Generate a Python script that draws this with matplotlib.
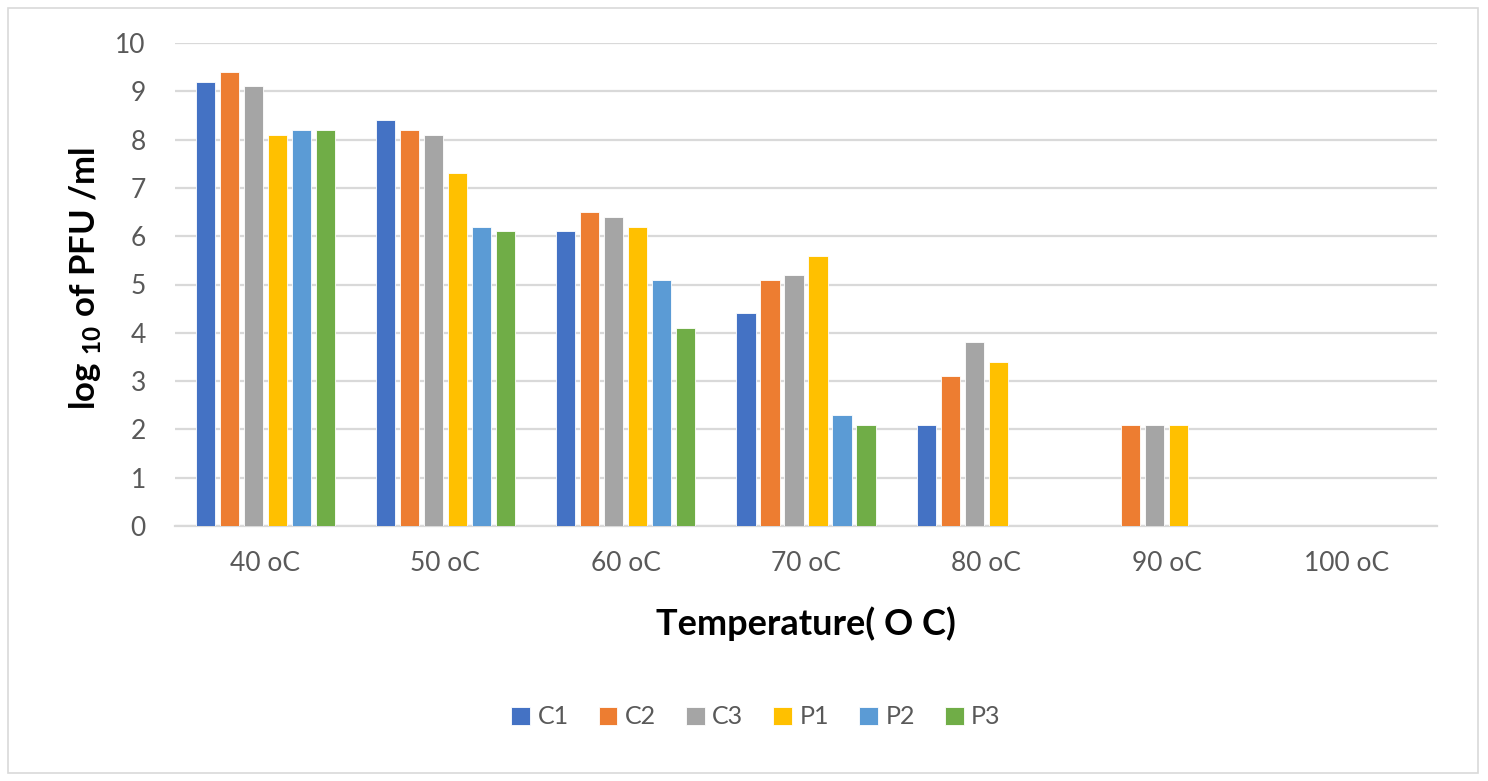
import matplotlib
matplotlib.use("Agg")
import matplotlib.pyplot as plt
import numpy as np
from matplotlib.patches import Rectangle

plt.rcParams['font.family'] = ['Lato', 'DejaVu Sans']
plt.rcParams['mathtext.fontset'] = 'custom'
plt.rcParams['mathtext.rm'] = 'Lato'
plt.rcParams['mathtext.bf'] = 'Lato:bold'

categories = ["40 oC", "50 oC", "60 oC", "70 oC", "80 oC", "90 oC", "100 oC"]
series_names = ["C1", "C2", "C3", "P1", "P2", "P3"]
C1 = [9.2, 8.4, 6.1, 4.4, 2.1, 0, 0]
C2 = [9.4, 8.2, 6.5, 5.1, 3.1, 2.1, 0]
C3 = [9.1, 8.1, 6.4, 5.2, 3.8, 2.1, 0]
P1 = [8.1, 7.3, 6.2, 5.6, 3.4, 2.1, 0]
P2 = [8.2, 6.2, 5.1, 2.3, 0, 0, 0]
P3 = [8.2, 6.1, 4.1, 2.1, 0, 0, 0]
yticks = list(range(0, 11))

series = [C1, C2, C3, P1, P2, P3]
colors = ["#4472C4", "#ED7D31", "#A5A5A5", "#FFC000", "#5B9BD5", "#70AD47"]

W, H = 1488, 781
fig = plt.figure(figsize=(W / 100, H / 100), dpi=100)
ax = fig.add_axes([175 / W, 1 - 526 / H, (1437 - 175) / W, (526 - 43) / H])

x = np.arange(len(categories))
step = 0.133
bw = 0.106
for i, (name, vals, c) in enumerate(zip(series_names, series, colors)):
    off = (i - 2.5) * step
    ax.bar(x + off, vals, width=bw, color=c, label=name, edgecolor='white',
           linewidth=0.6, zorder=3)

ax.set_xlim(-0.5, len(categories) - 0.5)
ax.set_ylim(0, 10)
ax.set_yticks(yticks)
ax.set_xticks(x)
ax.set_xticklabels(categories)
ax.tick_params(axis='both', length=0, labelsize=19, colors='#595959')
ax.tick_params(axis='x', pad=18)
ax.tick_params(axis='y', pad=21)
ax.grid(axis='y', color='#D9D9D9', linewidth=1.6, zorder=0)
ax.set_axisbelow(True)
for s in ['top', 'right', 'left']:
    ax.spines[s].set_visible(False)
ax.spines['bottom'].set_color('#D9D9D9')
ax.spines['bottom'].set_linewidth(1.6)

fig.text(806 / W, 1 - 624 / H, "Temperature( O C)", fontsize=26, fontweight='bold',
         ha='center', va='center', color='black')
fig.text(85 / W, 1 - 278 / H, r"log $_{\mathbf{10}}$ of PFU /ml", fontsize=25,
         fontweight='bold', rotation=90, ha='center', va='center', color='black')

leg = fig.legend(loc='center', bbox_to_anchor=(756 / W, 1 - 717 / H), ncol=6,
                 frameon=False, fontsize=18, handlelength=0.75, handleheight=0.75,
                 handletextpad=0.3, columnspacing=1.2)
for t in leg.get_texts():
    t.set_color('#595959')

fig.patches.append(Rectangle((8 / W, 8 / H), (1478 - 8) / W, (773 - 8) / H,
                             transform=fig.transFigure, fill=False,
                             edgecolor='#D9D9D9', linewidth=1.2))

fig.savefig("out.png", dpi=100, facecolor='white')
